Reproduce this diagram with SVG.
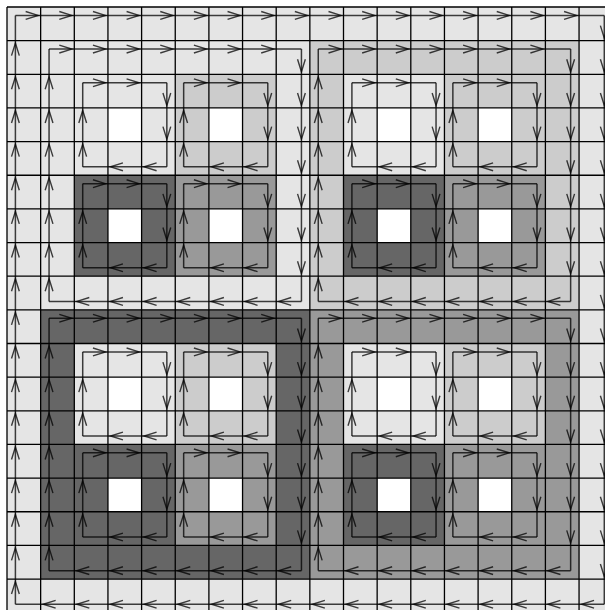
<svg xmlns="http://www.w3.org/2000/svg" xmlns:xlink="http://www.w3.org/1999/xlink" width="605" height="610" viewBox="0 0 605 610">
<style>
.grid{fill:none;stroke:#000;stroke-width:1.3}
.r{fill:none;stroke:#000;stroke-opacity:0.75;stroke-width:1.5;marker-mid:url(#ah)}
.w{fill:#fff}
</style>
<defs>
<marker id="ah" markerUnits="userSpaceOnUse" markerWidth="16" markerHeight="16" refX="2.5" refY="0" orient="auto" overflow="visible"><path d="M-12.5,-3.9 L0,0 L-12.5,3.9" fill="none" stroke="#000" stroke-opacity="0.75" stroke-width="1.4"/></marker>
<g id="qfill">
<rect x="33.65" y="33.65" width="100.95" height="100.95" fill="#e5e5e5"/>
<rect x="134.6" y="33.65" width="100.95" height="100.95" fill="#cccccc"/>
<rect x="33.65" y="134.6" width="100.95" height="100.95" fill="#666666"/>
<rect x="134.6" y="134.6" width="100.95" height="100.95" fill="#999999"/>
<rect class="w" x="67.3" y="67.3" width="33.65" height="33.65"/>
<rect class="w" x="168.25" y="67.3" width="33.65" height="33.65"/>
<rect class="w" x="67.3" y="168.25" width="33.65" height="33.65"/>
<rect class="w" x="168.25" y="168.25" width="33.65" height="33.65"/>
</g>
<g id="blk" class="r">
<path d="M8.41,8.41H33.65H67.3H92.54"/>
<path d="M92.54,8.41V33.65V67.3V92.54"/>
<path d="M92.54,92.54H67.3H33.65H8.41"/>
<path d="M8.41,92.54V67.3V33.65V8.41"/>
</g>
<g id="quad" class="r">
<path d="M8.41,8.41H33.65H67.3H100.95H134.6H168.25H201.9H235.55H260.79"/>
<path d="M260.79,8.41V33.65V67.3V100.95V134.6V168.25V201.9V235.55V260.79"/>
<path d="M260.79,260.79H235.55H201.9H168.25H134.6H100.95H67.3H33.65H8.41"/>
<path d="M8.41,260.79V235.55V201.9V168.25V134.6V100.95V67.3V33.65V8.41"/>
</g>
</defs>
<rect width="605" height="610" fill="#fff"/>
<g id="fills">
<rect x="7" y="7" width="605.7" height="605.7" fill="#e5e5e5"/>
<rect x="309.85" y="40.65" width="269.2" height="269.2" fill="#cccccc"/>
<rect x="40.65" y="309.85" width="269.2" height="269.2" fill="#666666"/>
<rect x="309.85" y="309.85" width="269.2" height="269.2" fill="#999999"/>
<use xlink:href="#qfill" href="#qfill" x="40.65" y="40.65"/>
<use xlink:href="#qfill" href="#qfill" x="309.85" y="40.65"/>
<use xlink:href="#qfill" href="#qfill" x="40.65" y="309.85"/>
<use xlink:href="#qfill" href="#qfill" x="309.85" y="309.85"/>
</g>
<g id="grid">
<path class="grid" d="M7,7V612.7M40.65,7V612.7M74.3,7V612.7M107.95,7V612.7M141.6,7V612.7M175.25,7V612.7M208.9,7V612.7M242.55,7V612.7M276.2,7V612.7M309.85,7V612.7M343.5,7V612.7M377.15,7V612.7M410.8,7V612.7M444.45,7V612.7M478.1,7V612.7M511.75,7V612.7M545.4,7V612.7M579.05,7V612.7M7,7H612.7M7,40.65H612.7M7,74.3H612.7M7,107.95H612.7M7,141.6H612.7M7,175.25H612.7M7,208.9H612.7M7,242.55H612.7M7,276.2H612.7M7,309.85H612.7M7,343.5H612.7M7,377.15H612.7M7,410.8H612.7M7,444.45H612.7M7,478.1H612.7M7,511.75H612.7M7,545.4H612.7M7,579.05H612.7"/>
</g>
<g id="connectors">
<g id="outer-ring" class="r">
<path d="M15.41,15.41H40.65H74.3H107.95H141.6H175.25H208.9H242.55H276.2H309.85H343.5H377.15H410.8H444.45H478.1H511.75H545.4H579.05H604.29"/>
<path d="M604.29,15.41V40.65V74.3V107.95V141.6V175.25V208.9V242.55V276.2V309.85V343.5V377.15V410.8V444.45V478.1V511.75V545.4V579.05V604.29"/>
<path d="M604.29,604.29H579.05H545.4H511.75H478.1H444.45H410.8H377.15H343.5H309.85H276.2H242.55H208.9H175.25H141.6H107.95H74.3H40.65H15.41"/>
<path d="M15.41,604.29V579.05V545.4V511.75V478.1V444.45V410.8V377.15V343.5V309.85V276.2V242.55V208.9V175.25V141.6V107.95V74.3V40.65V15.41"/>
</g>
<g id="quad-rings">
<use xlink:href="#quad" href="#quad" x="40.65" y="40.65"/>
<use xlink:href="#quad" href="#quad" x="309.85" y="40.65"/>
<use xlink:href="#quad" href="#quad" x="40.65" y="309.85"/>
<use xlink:href="#quad" href="#quad" x="309.85" y="309.85"/>
</g>
<g id="block-rings">
<use xlink:href="#blk" href="#blk" x="74.3" y="74.3"/>
<use xlink:href="#blk" href="#blk" x="175.25" y="74.3"/>
<use xlink:href="#blk" href="#blk" x="343.5" y="74.3"/>
<use xlink:href="#blk" href="#blk" x="444.45" y="74.3"/>
<use xlink:href="#blk" href="#blk" x="74.3" y="175.25"/>
<use xlink:href="#blk" href="#blk" x="175.25" y="175.25"/>
<use xlink:href="#blk" href="#blk" x="343.5" y="175.25"/>
<use xlink:href="#blk" href="#blk" x="444.45" y="175.25"/>
<use xlink:href="#blk" href="#blk" x="74.3" y="343.5"/>
<use xlink:href="#blk" href="#blk" x="175.25" y="343.5"/>
<use xlink:href="#blk" href="#blk" x="343.5" y="343.5"/>
<use xlink:href="#blk" href="#blk" x="444.45" y="343.5"/>
<use xlink:href="#blk" href="#blk" x="74.3" y="444.45"/>
<use xlink:href="#blk" href="#blk" x="175.25" y="444.45"/>
<use xlink:href="#blk" href="#blk" x="343.5" y="444.45"/>
<use xlink:href="#blk" href="#blk" x="444.45" y="444.45"/>
</g>
</g>
</svg>
